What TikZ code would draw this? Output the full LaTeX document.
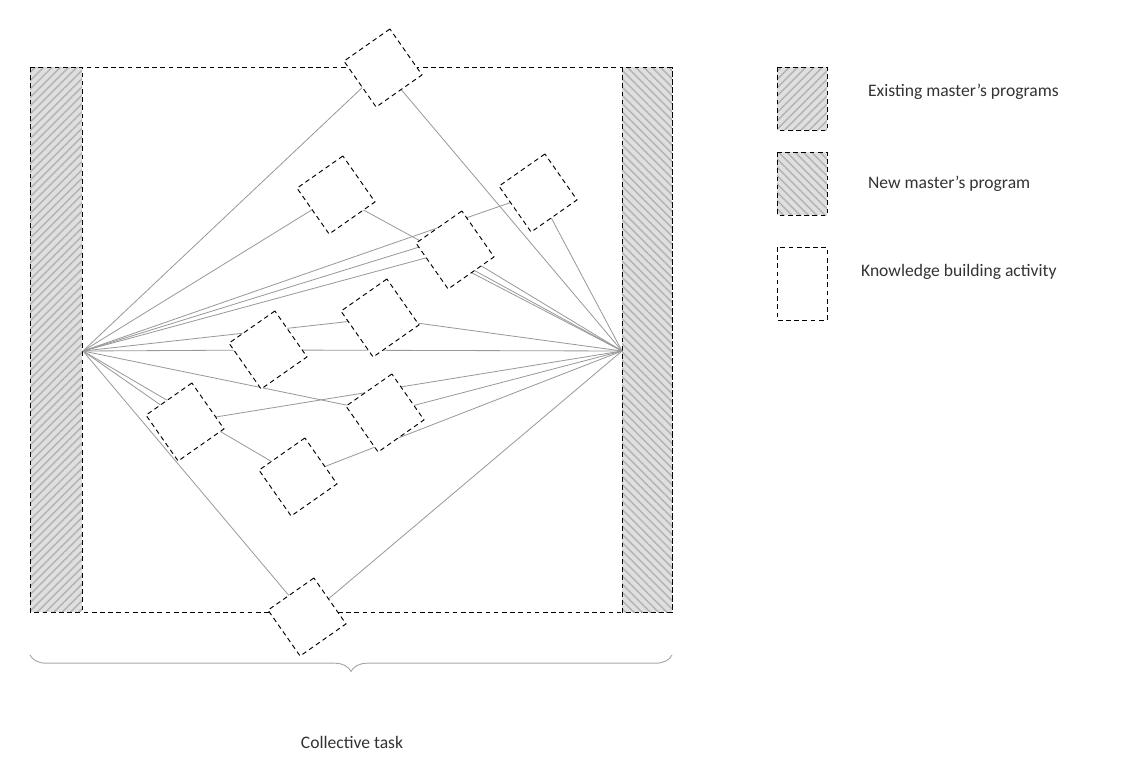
\documentclass[tikz,border=0pt]{standalone}
\usepackage{fontspec}
\setmainfont{Carlito}
\usetikzlibrary{patterns.meta,decorations.pathreplacing}
\begin{document}
\begin{tikzpicture}[x=0.03cm,y=-0.03cm,
  dsh/.style={thick,dash pattern=on 4pt off 3pt},
  act/.style={draw,dsh,fill=white,minimum size=1.68cm,rotate=35,inner sep=0pt},
  link/.style={gray!80,line width=0.7pt},
  hne/.style={pattern={Lines[angle=45,distance=5pt,line width=1.2pt]},pattern color=gray!60},
  hnw/.style={pattern={Lines[angle=-45,distance=5pt,line width=1.2pt]},pattern color=gray!60},
  lbl/.style={font=\fontsize{15}{18}\selectfont,anchor=west,text=black!80}]
\useasboundingbox (0,0) rectangle (1135,782);
% frame and bars
\draw[dsh] (30,67) rectangle (672,612);
\fill[gray!25] (30,67) rectangle (82,612);
\fill[hne] (30,67) rectangle (82,612);
\draw[dsh] (30,67) rectangle (82,612);
\fill[gray!25] (622,67) rectangle (672,612);
\fill[hnw] (622,67) rectangle (672,612);
\draw[dsh] (622,67) rectangle (672,612);
\coordinate (L) at (83,351);
\coordinate (R) at (622,351);
% activities (positions), redrawn on top of the links
\path (383,68) coordinate (d1) (336,195) coordinate (d2)
      (538,193) coordinate (d3) (455,250) coordinate (d4)
      (380,318) coordinate (d5) (268,350) coordinate (d6)
      (185,422) coordinate (d7) (385,413) coordinate (d8)
      (298,477) coordinate (d9) (307,617) coordinate (d10);
\foreach \n in {d1,d2,d3,d4,d5,d6,d7,d8,d9,d10}{
  \draw[link] (L) -- (\n);
  \draw[link] (R) -- (\n);
}
\draw[link] (L) -- ([yshift=12]d4);
\draw[link] (R) -- ([yshift=-12]d4);
\foreach \n in {d1,d2,d3,d4,d5,d6,d7,d8,d9,d10}
  \node[act] (a\n) at (\n) {};
% brace
\draw[gray!70,line width=0.8pt,decorate,decoration={brace,mirror,amplitude=14pt}]
  (30,655) -- (672,655);
\node[font=\fontsize{15}{18}\selectfont,text=black!80] (ct) at (352,742) {Collective task};
% legend
\fill[gray!25] (777,67) rectangle (827,130);
\fill[hne] (777,67) rectangle (827,130);
\draw[dsh] (777,67) rectangle (827,130);
\fill[gray!25] (777,152) rectangle (827,215);
\fill[hnw] (777,152) rectangle (827,215);
\draw[dsh] (777,152) rectangle (827,215);
\draw[dsh] (777,247) rectangle (827,320);
\node[lbl] (e1) at (864,92) {Existing master’s programs};
\node[lbl] (e2) at (864,184) {New master’s program};
\node[lbl] (e3) at (857,272) {Knowledge building activity};
\end{tikzpicture}
\end{document}
